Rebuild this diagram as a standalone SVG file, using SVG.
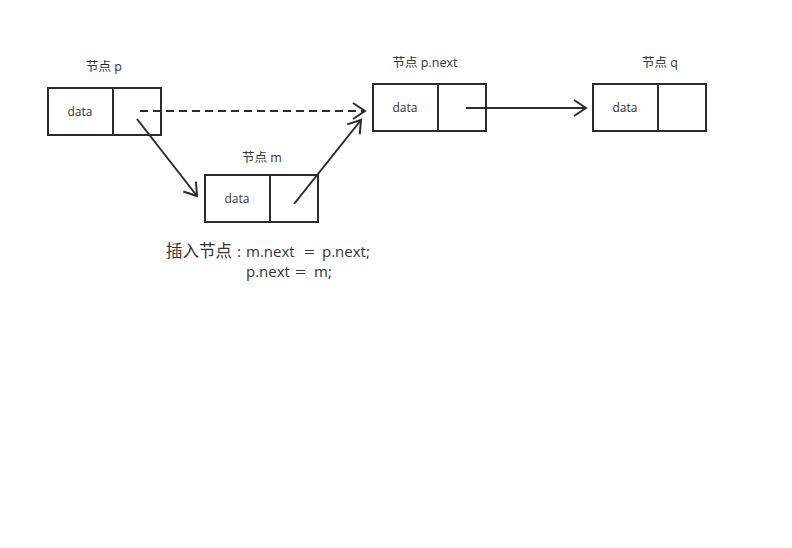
<svg xmlns="http://www.w3.org/2000/svg" width="792" height="548" viewBox="0 0 792 548">
<style>
.box{fill:#fff;stroke:#2b2b2b;stroke-width:2}
.div{stroke:#2b2b2b;stroke-width:2}
.lbl{font-family:"Open Sans","Noto Sans CJK SC",sans-serif;font-size:12.5px;fill:#333;text-anchor:middle}
.dt{font-family:"Open Sans","Noto Sans",sans-serif;font-size:12px;fill:#333;text-anchor:middle}
.con{fill:none;stroke:#2b2b2b;stroke-width:2;marker-end:url(#arr)}
.code{font-family:"Open Sans","Noto Sans CJK SC",sans-serif;font-size:15px;fill:#333}
.cjk{font-size:16.5px}
</style>
<defs>
<marker id="arr" markerUnits="userSpaceOnUse" viewBox="-15 -11 17 22" markerWidth="17" markerHeight="22" refX="0" refY="0" orient="auto">
<path d="M-12,-8 L0,0 L-12,8" fill="none" stroke="#2b2b2b" stroke-width="2"/>
</marker>
</defs>
<rect width="792" height="548" fill="#fff"/>
<g id="node-p">
<text class="lbl" x="104" y="71">节点 p</text>
<rect class="box" x="48" y="88" width="113" height="47"/>
<line class="div" x1="113" y1="88" x2="113" y2="135"/>
<text class="dt" x="80" y="116">data</text>
</g>
<g id="node-pnext">
<text class="lbl" x="425" y="67">节点 p.next</text>
<rect class="box" x="373" y="84" width="113" height="47"/>
<line class="div" x1="438" y1="84" x2="438" y2="131"/>
<text class="dt" x="405" y="112">data</text>
</g>
<g id="node-q">
<text class="lbl" x="660" y="67">节点 q</text>
<rect class="box" x="593" y="84" width="113" height="47"/>
<line class="div" x1="658" y1="84" x2="658" y2="131"/>
<text class="dt" x="625" y="112">data</text>
</g>
<g id="node-m">
<text class="lbl" x="262" y="162">节点 m</text>
<rect class="box" x="205" y="175" width="113" height="47"/>
<line class="div" x1="270" y1="175" x2="270" y2="222"/>
<text class="dt" x="237" y="203">data</text>
</g>
<g id="connectors">
<line class="con" x1="140" y1="111" x2="365" y2="111" stroke-dasharray="8,5"/>
<line class="con" x1="137" y1="119" x2="197" y2="196"/>
<line class="con" x1="294" y1="204" x2="361" y2="120"/>
<line class="con" x1="466" y1="108" x2="586" y2="108"/>
</g>
<g id="note">
<text class="code" y="257"><tspan class="cjk" x="166">插入节点</tspan><tspan x="237">:</tspan><tspan x="246">m.next</tspan><tspan x="304" textLength="11" lengthAdjust="spacingAndGlyphs">=</tspan><tspan x="322">p.next;</tspan></text>
<text class="code" y="277"><tspan x="246">p.next</tspan><tspan x="295" textLength="11" lengthAdjust="spacingAndGlyphs">=</tspan><tspan x="314">m;</tspan></text>
</g>
</svg>
